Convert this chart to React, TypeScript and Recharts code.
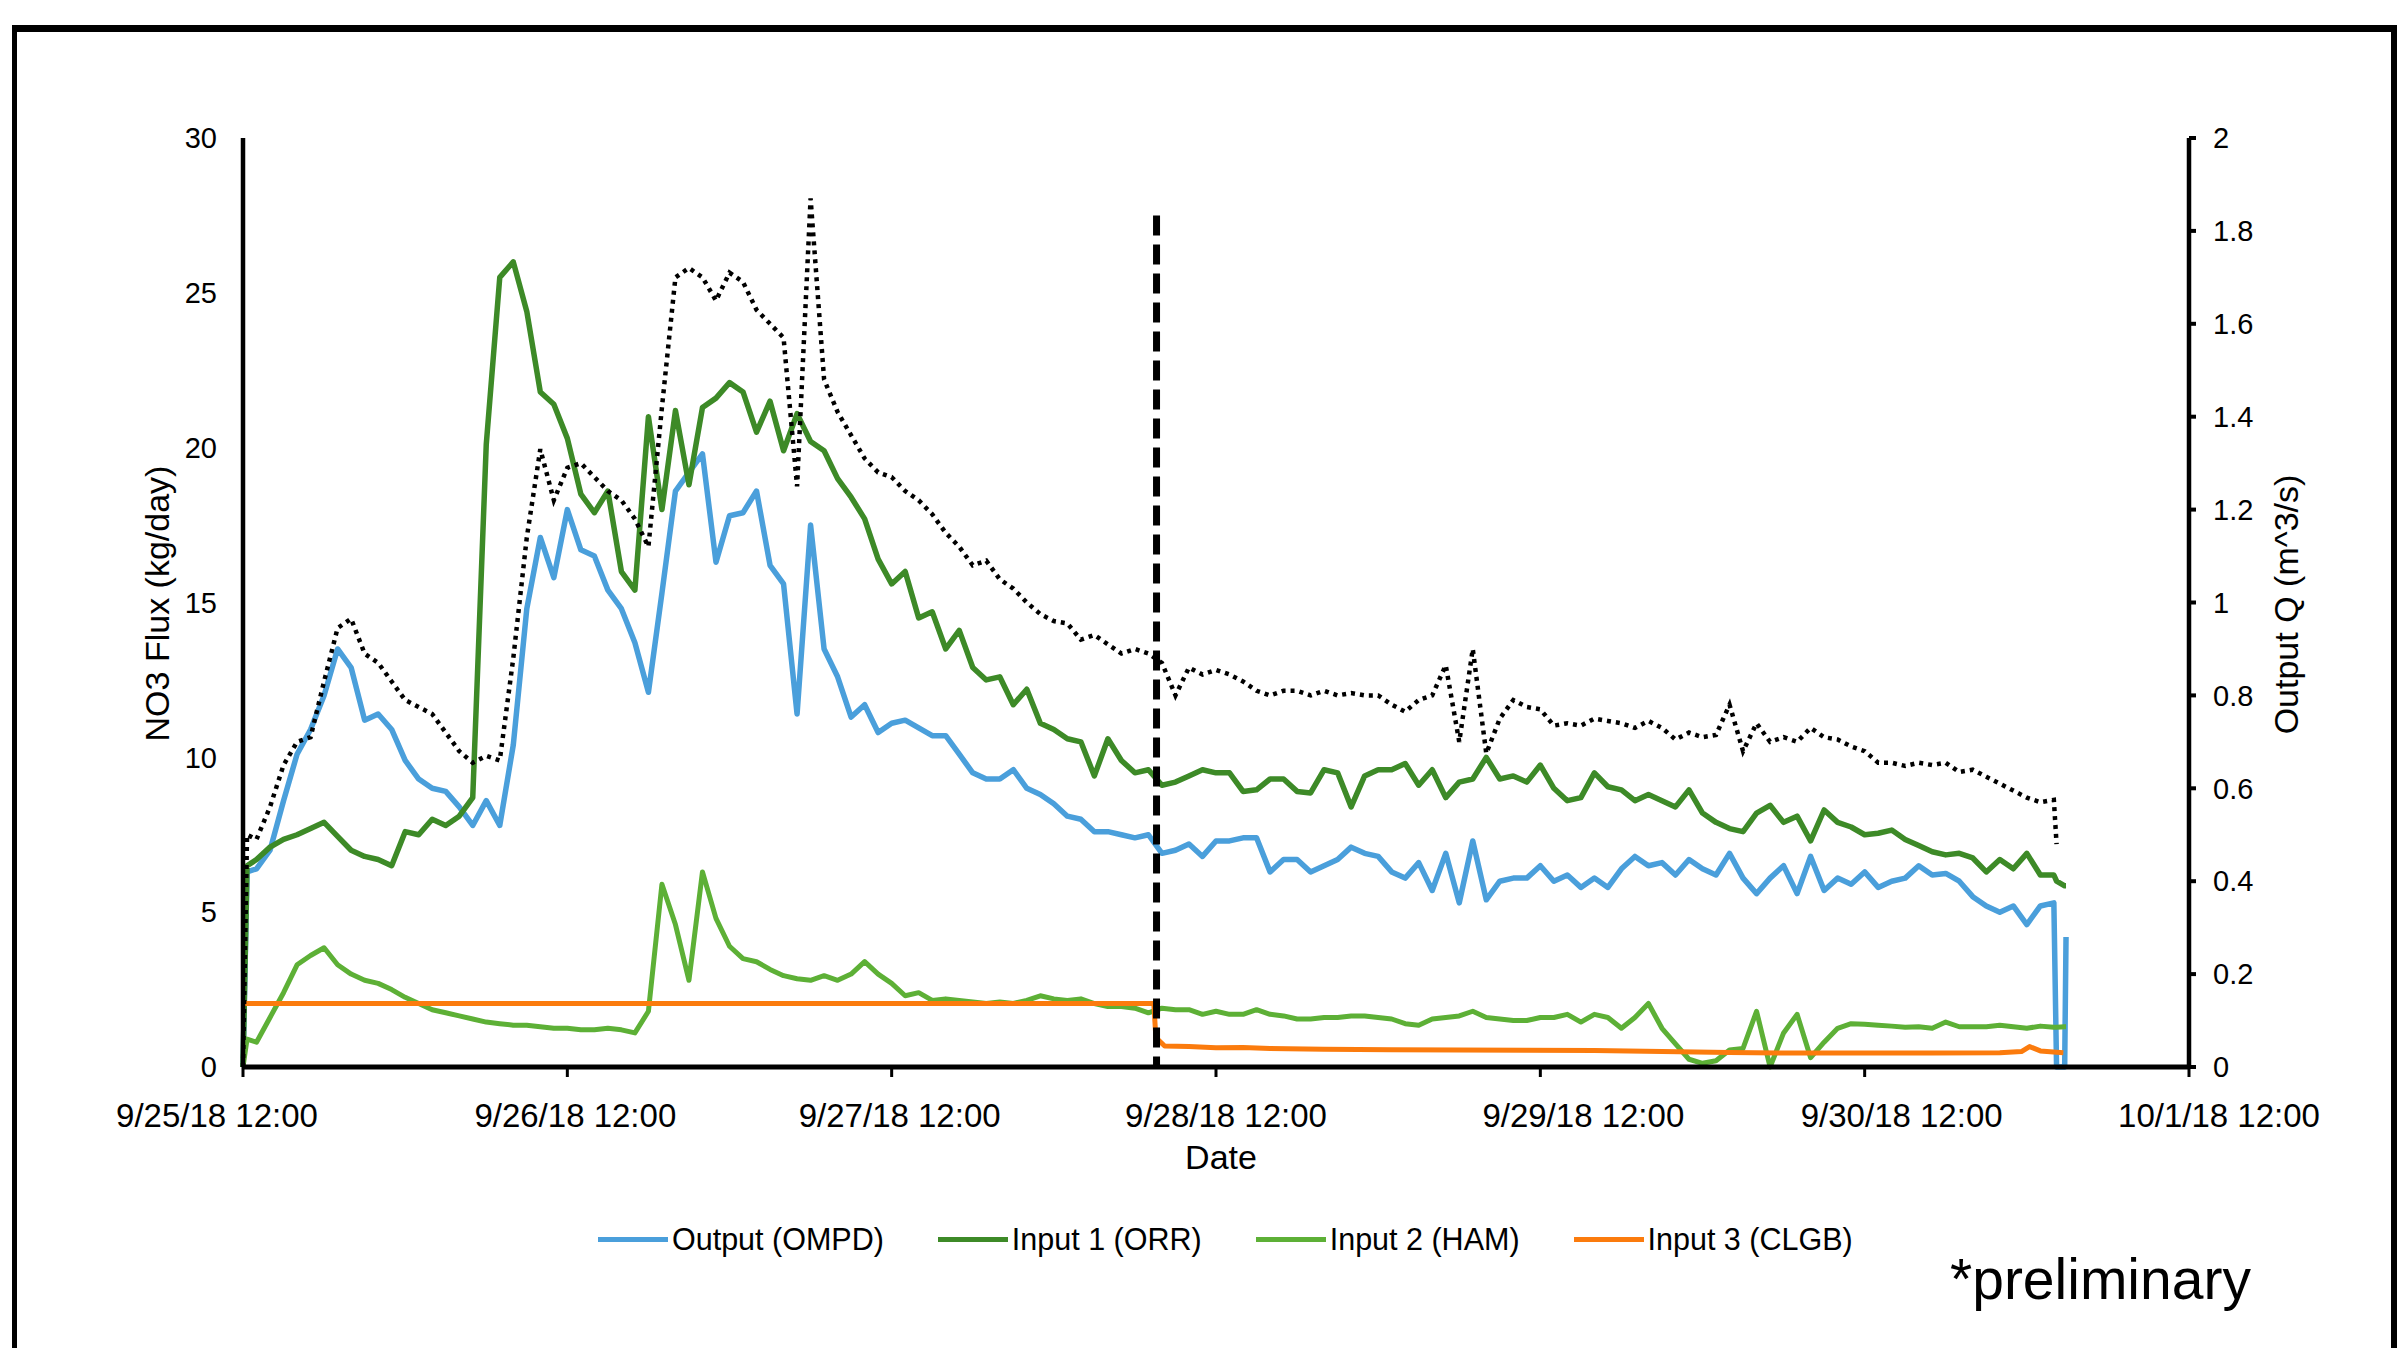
import React from 'react';
import { LineChart, Line, XAxis, YAxis, ReferenceLine, Legend, Label } from 'recharts';

const FONT = "Arial, 'Liberation Sans', Helvetica, sans-serif";

// x axis is hours after 9/25/18 12:00
const DAY_TICKS = [0, 24, 48, 72, 96, 120, 144];
const DAY_LABELS = ['9/25/18 12:00', '9/26/18 12:00', '9/27/18 12:00', '9/28/18 12:00', '9/29/18 12:00', '9/30/18 12:00', '10/1/18 12:00'];
const FLUX_TICKS = [0, 5, 10, 15, 20, 25, 30];
const Q_TICKS = [0, 0.2, 0.4, 0.6, 0.8, 1, 1.2, 1.4, 1.6, 1.8, 2];

// sample grid: start, hourly readings, and the logger drop-out at the end
const HOURS = [0, 0.3, ...Array.from({ length: 134 }, (_, i) => i + 1), 134.2, 134.8, 134.9];

// Output (OMPD), kg/day
const OMPD = [
  0, 6.3,
  6.4, 7.0, 8.6, 10.1, 10.9, 12.0, 13.5, 12.9, 11.2, 11.4, 10.9, 9.9,
  9.3, 9.0, 8.9, 8.4, 7.8, 8.6, 7.8, 10.4, 14.8, 17.1, 15.8, 18.0,
  16.7, 16.5, 15.4, 14.8, 13.7, 12.1, 15.3, 18.6, 19.2, 19.8, 16.3, 17.8,
  17.9, 18.6, 16.2, 15.6, 11.4, 17.5, 13.5, 12.6, 11.3, 11.7, 10.8, 11.1,
  11.2, 10.95, 10.7, 10.7, 10.1, 9.5, 9.3, 9.3, 9.6, 9.0, 8.8, 8.5,
  8.1, 8.0, 7.6, 7.6, 7.5, 7.4, 7.5, 6.9, 7.0, 7.2, 6.8, 7.3,
  7.3, 7.4, 7.4, 6.3, 6.7, 6.7, 6.3, 6.5, 6.7, 7.1, 6.9, 6.8,
  6.3, 6.1, 6.6, 5.7, 6.9, 5.3, 7.3, 5.4, 6.0, 6.1, 6.1, 6.5,
  6.0, 6.2, 5.8, 6.1, 5.8, 6.4, 6.8, 6.5, 6.6, 6.2, 6.7, 6.4,
  6.2, 6.9, 6.1, 5.6, 6.1, 6.5, 5.6, 6.8, 5.7, 6.1, 5.9, 6.3,
  5.8, 6.0, 6.1, 6.5, 6.2, 6.25, 6.0, 5.5, 5.2, 5.0, 5.2, 4.6,
  5.2, 5.3, 0, 0, 4.2,
];

// Input 1 (ORR)
const ORR = [
  0, 6.5,
  6.7, 7.1, 7.35, 7.5, 7.7, 7.9, 7.45, 7.0, 6.8, 6.7, 6.5, 7.6,
  7.5, 8.0, 7.8, 8.1, 8.7, 20.1, 25.5, 26.0, 24.4, 21.8, 21.4, 20.3,
  18.5, 17.9, 18.6, 16.0, 15.4, 21.0, 18.0, 21.2, 18.8, 21.3, 21.6, 22.1,
  21.8, 20.5, 21.5, 19.9, 21.1, 20.2, 19.9, 19.0, 18.4, 17.7, 16.4, 15.6,
  16.0, 14.5, 14.7, 13.5, 14.1, 12.9, 12.5, 12.6, 11.7, 12.2, 11.1, 10.9,
  10.6, 10.5, 9.4, 10.6, 9.9, 9.5, 9.6, 9.1, 9.2, 9.4, 9.6, 9.5,
  9.5, 8.9, 8.95, 9.3, 9.3, 8.9, 8.85, 9.6, 9.5, 8.4, 9.4, 9.6,
  9.6, 9.8, 9.1, 9.6, 8.7, 9.2, 9.3, 10.0, 9.3, 9.4, 9.2, 9.75,
  9.0, 8.6, 8.7, 9.5, 9.05, 8.95, 8.6, 8.8, 8.6, 8.4, 8.95, 8.2,
  7.9, 7.7, 7.6, 8.2, 8.45, 7.9, 8.1, 7.3, 8.3, 7.9, 7.75, 7.5,
  7.55, 7.65, 7.35, 7.15, 6.95, 6.85, 6.9, 6.75, 6.3, 6.7, 6.4, 6.9,
  6.2, 6.2, 6.0, 5.85, 5.85,
];

// Input 2 (HAM)
const HAM = [
  0, 0.9,
  0.8, 1.6, 2.4, 3.3, 3.6, 3.85, 3.3, 3.0, 2.8, 2.7, 2.5, 2.25,
  2.05, 1.85, 1.75, 1.65, 1.55, 1.45, 1.4, 1.35, 1.35, 1.3, 1.25, 1.25,
  1.2, 1.2, 1.25, 1.2, 1.1, 1.8, 5.9, 4.6, 2.8, 6.3, 4.8, 3.9,
  3.5, 3.4, 3.15, 2.95, 2.85, 2.8, 2.95, 2.8, 3.0, 3.4, 3.0, 2.7,
  2.3, 2.4, 2.15, 2.2, 2.15, 2.1, 2.05, 2.1, 2.05, 2.15, 2.3, 2.2,
  2.15, 2.2, 2.05, 1.95, 1.95, 1.9, 1.75, 1.9, 1.85, 1.85, 1.7, 1.8,
  1.7, 1.7, 1.85, 1.7, 1.65, 1.55, 1.55, 1.6, 1.6, 1.65, 1.65, 1.6,
  1.55, 1.4, 1.35, 1.55, 1.6, 1.65, 1.8, 1.6, 1.55, 1.5, 1.5, 1.6,
  1.6, 1.7, 1.45, 1.7, 1.6, 1.25, 1.6, 2.05, 1.25, 0.75, 0.25, 0.12,
  0.2, 0.55, 0.6, 1.8, 0.0, 1.1, 1.7, 0.3, 0.8, 1.25, 1.4, 1.38,
  1.35, 1.32, 1.28, 1.3, 1.25, 1.45, 1.3, 1.3, 1.3, 1.35, 1.3, 1.25,
  1.32, 1.28, 1.28, 1.3, 1.3,
];

// Output Q (m^3/s), right axis
const Q = [
  0, 0.5,
  0.49, 0.56, 0.65, 0.70, 0.71, 0.83, 0.945, 0.965, 0.89, 0.87, 0.83, 0.79,
  0.775, 0.76, 0.72, 0.68, 0.655, 0.67, 0.66, 0.88, 1.14, 1.33, 1.22, 1.29,
  1.30, 1.27, 1.24, 1.22, 1.18, 1.12, 1.42, 1.70, 1.72, 1.70, 1.65, 1.71,
  1.69, 1.63, 1.60, 1.57, 1.25, 1.87, 1.48, 1.41, 1.36, 1.31, 1.28, 1.27,
  1.24, 1.22, 1.19, 1.15, 1.12, 1.08, 1.09, 1.05, 1.03, 1.00, 0.975, 0.96,
  0.955, 0.92, 0.93, 0.91, 0.89, 0.90, 0.89, 0.87, 0.80, 0.86, 0.845, 0.855,
  0.845, 0.83, 0.81, 0.80, 0.81, 0.81, 0.80, 0.81, 0.80, 0.805, 0.80, 0.80,
  0.78, 0.765, 0.79, 0.80, 0.865, 0.70, 0.90, 0.675, 0.75, 0.79, 0.775, 0.77,
  0.735, 0.74, 0.735, 0.75, 0.745, 0.74, 0.73, 0.745, 0.73, 0.705, 0.72, 0.71,
  0.715, 0.78, 0.68, 0.74, 0.70, 0.71, 0.70, 0.73, 0.71, 0.705, 0.69, 0.68,
  0.655, 0.655, 0.648, 0.655, 0.65, 0.655, 0.635, 0.64, 0.625, 0.61, 0.595, 0.58,
  0.57, 0.575, 0.48, null, null,
];

// Input 3 (CLGB) is logged on its own schedule
const CLGB_HOURS = [0, 67.4, 67.55, 68.2, 70, 72, 74, 76, 80, 85, 90, 95, 100, 105, 110, 115, 120, 125, 130, 131.6, 132.2, 133, 134.7];
const CLGB = [2.05, 2.05, 0.95, 0.68, 0.66, 0.62, 0.63, 0.6, 0.57, 0.56, 0.55, 0.54, 0.53, 0.5, 0.47, 0.45, 0.45, 0.45, 0.46, 0.5, 0.66, 0.52, 0.46];

// change-over marker
const EVENT_HOUR = 67.6;
const EVENT_TOP = 27.5;

const LEGEND_ORDER = ['Output (OMPD)', 'Input 1 (ORR)', 'Input 2 (HAM)', 'Input 3 (CLGB)'];
// Excel nudged the date labels off their ticks a little
const LABEL_SHIFT = [-26, 8, 8, 10, 43, 37, 30];

[OMPD, ORR, HAM, Q].forEach((s) => {
  if (s.length !== HOURS.length) throw new Error(`series length ${s.length} != ${HOURS.length}`);
});

const rows = HOURS.map((h, i) => ({ h, ompd: OMPD[i], orr: ORR[i], ham: HAM[i], q: Q[i] }));
const clgbRows = CLGB_HOURS.map((h, i) => ({ h, clgb: CLGB[i] }));

const BLUE = '#4a9fdb';
const DARK_GREEN = '#3d8a27';
const LIGHT_GREEN = '#5db036';
const ORANGE = '#fb7b0d';

const axisTitle = (text: string, dx: number, dy: number, angle: number) => (props: any) => {
  const vb = props.viewBox || {};
  const cx = vb.x + vb.width / 2 + dx;
  const cy = vb.y + vb.height / 2 + dy;
  return (
    <text
      x={cx}
      y={cy}
      textAnchor="middle"
      dominantBaseline="central"
      transform={angle ? `rotate(${angle}, ${cx}, ${cy})` : undefined}
      fill="#000"
      fontSize={34}
      fontFamily={FONT}
    >
      {text}
    </text>
  );
};

function DateTick({ x, y, payload }: any) {
  const i = DAY_TICKS.indexOf(payload.value);
  return (
    <text x={x + (LABEL_SHIFT[i] || 0)} y={y} dy="0.71em" textAnchor="middle" fill="#000" fontSize={33} fontFamily={FONT}>
      {DAY_LABELS[i]}
    </text>
  );
}

function FluxLegend({ payload }: any) {
  const items = (payload || [])
    .filter((p: any) => LEGEND_ORDER.includes(p.value))
    .sort((a: any, b: any) => LEGEND_ORDER.indexOf(a.value) - LEGEND_ORDER.indexOf(b.value));
  return (
    <div style={{ display: 'flex', alignItems: 'center', fontFamily: FONT, fontSize: 30.5, lineHeight: '36px', color: '#000', whiteSpace: 'nowrap' }}>
      {items.map((p: any, i: number) => (
        <div key={p.value} style={{ display: 'flex', alignItems: 'center', marginLeft: i ? 54 : 0 }}>
          <span style={{ display: 'inline-block', width: 70, height: 5, background: p.color, marginRight: 4 }} />
          <span>{p.value}</span>
        </div>
      ))}
    </div>
  );
}

export default function App() {
  return (
    <div style={{ position: 'absolute', left: 0, top: 0, width: 2398, height: 1348, overflow: 'hidden', background: '#fff', fontFamily: FONT }}>
      <div
        style={{
          position: 'absolute', left: 12, top: 25, width: 2385, height: 1400, boxSizing: 'border-box',
          borderTop: '7px solid #000', borderLeft: '5px solid #000', borderRight: '6px solid #000',
        }}
      />
      <div style={{ position: 'absolute', left: 0, top: 0 }}>
        <LineChart width={2398} height={1348} data={rows} margin={{ top: 138, right: 149, bottom: 221, left: 183 }}>
          <XAxis
            dataKey="h"
            type="number"
            domain={[0, 144]}
            ticks={DAY_TICKS}
            interval={0}
            height={60}
            tick={<DateTick />}
            axisLine={{ stroke: '#000', strokeWidth: 5 }}
            tickLine={{ stroke: '#000', strokeWidth: 3 }}
            tickSize={10}
            tickMargin={27}
          >
            <Label content={axisTitle('Date', 5, 60, 0)} />
          </XAxis>
          <YAxis
            yAxisId="flux"
            domain={[0, 30]}
            ticks={FLUX_TICKS}
            width={60}
            tick={{ fill: '#000', fontSize: 29, fontFamily: FONT }}
            axisLine={{ stroke: '#000', strokeWidth: 4.5 }}
            tickLine={false}
            tickSize={0}
            tickMargin={26}
          >
            <Label content={axisTitle('NO3 Flux (kg/day)', -56, 1, -90)} />
          </YAxis>
          <YAxis
            yAxisId="q"
            orientation="right"
            domain={[0, 2]}
            ticks={Q_TICKS}
            width={60}
            tick={{ fill: '#000', fontSize: 29, fontFamily: FONT }}
            axisLine={{ stroke: '#000', strokeWidth: 4.5 }}
            tickLine={{ stroke: '#000', strokeWidth: 4 }}
            tickSize={7}
            tickMargin={17}
          >
            <Label content={axisTitle('Output Q (m^3/s)', 67, 2, -90)} />
          </YAxis>

          <Line yAxisId="flux" dataKey="ompd" name="Output (OMPD)" stroke={BLUE} strokeWidth={5.5} strokeLinejoin="round" type="linear" dot={false} activeDot={false} isAnimationActive={false} />
          <Line yAxisId="flux" dataKey="orr" name="Input 1 (ORR)" stroke={DARK_GREEN} strokeWidth={5.5} strokeLinejoin="round" type="linear" dot={false} activeDot={false} isAnimationActive={false} />
          <Line yAxisId="flux" dataKey="ham" name="Input 2 (HAM)" stroke={LIGHT_GREEN} strokeWidth={5} strokeLinejoin="round" type="linear" dot={false} activeDot={false} isAnimationActive={false} />
          <Line yAxisId="flux" data={clgbRows} dataKey="clgb" name="Input 3 (CLGB)" stroke={ORANGE} strokeWidth={5} strokeLinejoin="round" type="linear" dot={false} activeDot={false} isAnimationActive={false} />
          <Line yAxisId="q" dataKey="q" name="Output Q" legendType="none" stroke="#000" strokeWidth={4.5} strokeDasharray="4 5" type="linear" dot={false} activeDot={false} isAnimationActive={false} />

          <ReferenceLine
            yAxisId="flux"
            segment={[{ x: EVENT_HOUR, y: EVENT_TOP }, { x: EVENT_HOUR, y: 0 }]}
            stroke="#000"
            strokeWidth={7}
            strokeDasharray="20 9"
          />

          <Legend
            layout="horizontal"
            verticalAlign="middle"
            align="center"
            content={<FluxLegend />}
            wrapperStyle={{ left: 598, top: 1221, width: 1400, height: 36 }}
          />
        </LineChart>
      </div>
      <div style={{ position: 'absolute', left: 1950, top: 1251, fontSize: 57, lineHeight: 1, color: '#000' }}>*preliminary</div>
    </div>
  );
}
